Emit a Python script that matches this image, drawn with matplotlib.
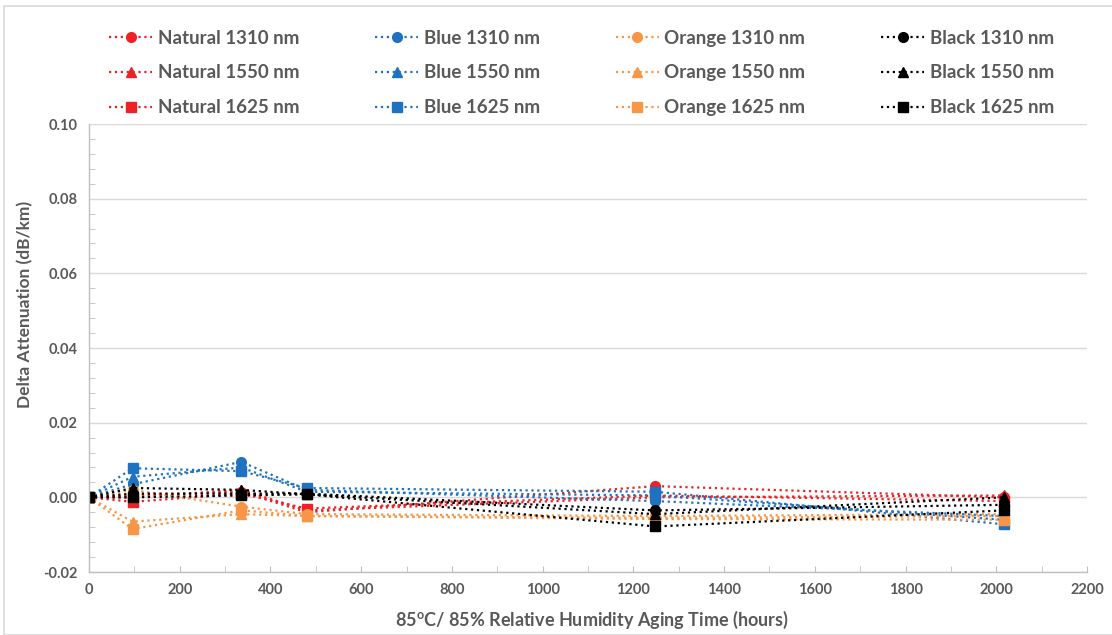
import matplotlib
matplotlib.use("Agg")
import matplotlib.pyplot as plt
from matplotlib.patches import Rectangle
from matplotlib.ticker import MultipleLocator

plt.rcParams['font.family'] = ['Lato', 'DejaVu Sans']
plt.rcParams['font.weight'] = 'bold'

# aging time (hours)
hours = [0, 96, 336, 480, 1248, 2016]

# delta attenuation (dB/km)
natural_1310 = [0, 0.0005, 0.0015, -0.004, 0.003, 0.0]
natural_1550 = [0, 0.0, 0.002, -0.0035, 0.0, 0.0005]
natural_1625 = [0, -0.0012, 0.001, -0.003, 0.0005, -0.001]
blue_1310 = [0, 0.0035, 0.0095, 0.002, -0.001, -0.005]
blue_1550 = [0, 0.0055, 0.008, 0.0015, 0.0005, -0.006]
blue_1625 = [0, 0.0078, 0.007, 0.0025, 0.0015, -0.0072]
orange_1310 = [0, 0.002, -0.0025, -0.0045, -0.005, -0.0045]
orange_1550 = [0, -0.0065, -0.0045, -0.005, -0.0055, -0.005]
orange_1625 = [0, -0.0085, -0.0035, -0.005, -0.0058, -0.006]
black_1310 = [0, 0.001, 0.001, 0.001, -0.0035, -0.002]
black_1550 = [0, 0.0025, 0.002, 0.0008, -0.0045, 0.0]
black_1625 = [0, 0.0, 0.0005, 0.0008, -0.0078, -0.0035]

colors = {"Natural": "#EC2227", "Blue": "#1F72BF", "Orange": "#F79646", "Black": "#000000"}
markers = {"1310": "o", "1550": "^", "1625": "s"}
series = {
    "Natural": [natural_1310, natural_1550, natural_1625],
    "Blue": [blue_1310, blue_1550, blue_1625],
    "Orange": [orange_1310, orange_1550, orange_1625],
    "Black": [black_1310, black_1550, black_1625],
}
txt = "#595959"

fig = plt.figure(figsize=(11.12, 6.35), dpi=100)
ax = fig.add_axes([0.080, 0.0992, 0.8975, 0.7055])

for name, vals in series.items():
    for wl, y in zip(markers, vals):
        ax.plot(hours, y, linestyle=":", linewidth=1.6, color=colors[name],
                marker=markers[wl], markersize=7, label=f"{name} {wl} nm")

ax.set_xlim(0, 2200)
ax.set_ylim(-0.02, 0.10)
ax.xaxis.set_major_locator(MultipleLocator(200))
ax.xaxis.set_minor_locator(MultipleLocator(100))
ax.yaxis.set_major_locator(MultipleLocator(0.02))
ax.yaxis.set_minor_locator(MultipleLocator(0.004))
ax.yaxis.set_major_formatter(plt.FuncFormatter(lambda v, p: f"{v:.2f}"))
ax.grid(axis="y", color="#D9D9D9", linewidth=1)
ax.set_axisbelow(True)
for s in ["top", "right"]:
    ax.spines[s].set_visible(False)
for s in ["left", "bottom"]:
    ax.spines[s].set_color("#BFBFBF")
    ax.spines[s].set_linewidth(1)
ax.tick_params(which="major", length=0, colors=txt, labelsize=10.5, pad=8)
ax.tick_params(which="minor", direction="in", length=4, color="#BFBFBF")
ax.tick_params(axis="x", which="major", direction="in", length=4, color="#BFBFBF")
for lab in ax.get_xticklabels() + ax.get_yticklabels():
    lab.set_fontweight("bold")

ax.set_xlabel("85$^{\\mathregular{o}}$C/ 85% Relative Humidity Aging Time (hours)",
              fontsize=13, color=txt, fontweight="bold", va="center")
ax.xaxis.set_label_coords(0.504, -0.107)
ax.set_ylabel("Delta Attenuation (dB/km)", fontsize=12.5, color=txt, fontweight="bold",
              va="center")
ax.yaxis.set_label_coords(-0.064, 0.598)

fig.legend(loc="upper left", bbox_to_anchor=(0.083, 0.980, 0.88, 0.0), mode="expand",
           ncol=4, frameon=False, handlelength=2.3, handletextpad=0.3,
           labelspacing=0.95, prop={"size": 13.5, "weight": "bold"}, labelcolor=txt)

fig.patches.append(Rectangle((4 / 1112, 0), 1.2, 1 - 6 / 635, transform=fig.transFigure,
                             fill=False, edgecolor="#D9D9D9", linewidth=1.2))

fig.savefig("out.png", dpi=100)
